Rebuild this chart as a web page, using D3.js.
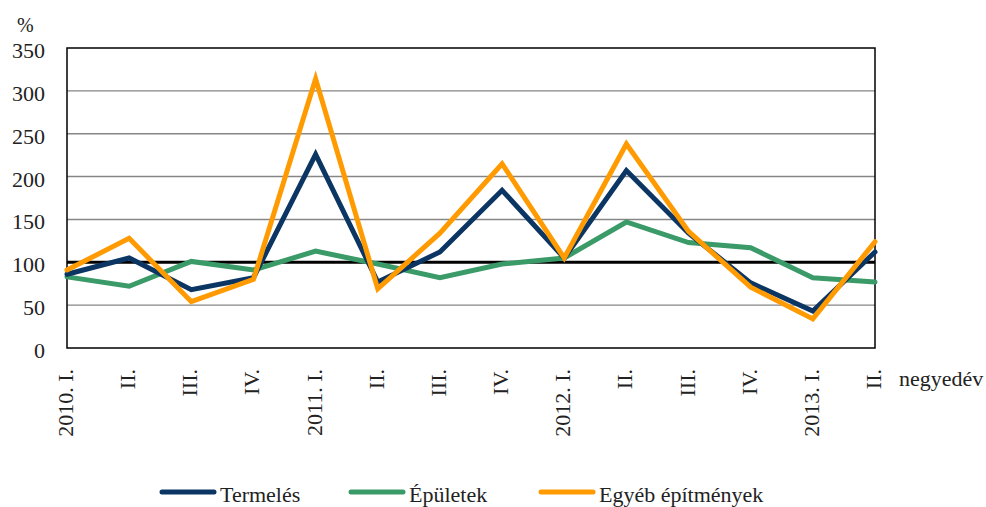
<!DOCTYPE html>
<html>
<head>
  <meta charset="utf-8">
  <title>Negyedéves indexek</title>
  <script src="https://cdn.jsdelivr.net/npm/d3@7"></script>
  <style>
    body { margin: 0; background: #fff; }
    text { font-family: "Liberation Serif", "Times New Roman", "DejaVu Serif", serif; fill: #222; }
  </style>
</head>
<body>
<script>
    // quarters on the x axis
    var quarters = ["2010. I.", "II.", "III.", "IV.", "2011. I.", "II.", "III.", "IV.",
                    "2012. I.", "II.", "III.", "IV.", "2013. I.", "II."]
    var yTicks = [0, 50, 100, 150, 200, 250, 300, 350]

    // series values (%)
    var termeles = [86, 105, 68, 82, 226, 77, 112, 184, 105, 207, 134, 76, 43, 112]
    var epuletek = [83, 72, 101, 91, 113, 98, 82, 98, 105, 147, 123, 117, 82, 77]
    var egyeb    = [91, 128, 54, 80, 314, 69, 134, 215, 105, 238, 136, 71, 34, 124]

    var series = [
        {name: "Épületek", values: epuletek, color: "#3a9a68"},
        {name: "Termelés", values: termeles, color: "#0b3563"},
        {name: "Egyéb építmények", values: egyeb, color: "#ff9b00"}
    ]
    var legendOrder = [series[1], series[0], series[2]]

    var W = 986, H = 507
    var m = {left: 67, right: 111, top: 48, bottom: 159}
    var fs = "22px"

    var svg = d3.select("body").append("svg")
        .attr("width", W).attr("height", H)

    var x = d3.scalePoint()
        .domain(d3.range(quarters.length))
        .range([m.left, W - m.right])

    var y = d3.scaleLinear()
        .domain([0, 350])
        .range([H - m.bottom, m.top])

    // gridlines
    svg.selectAll("line.grid").data(yTicks.filter(function(d) { return d > 0 && d < 350 && d != 100 }))
        .enter().append("line")
        .attr("x1", m.left).attr("x2", W - m.right)
        .attr("y1", function(d) { return y(d) }).attr("y2", function(d) { return y(d) })
        .attr("stroke", "#868686").attr("stroke-width", 1.4)

    // plot border
    svg.append("rect")
        .attr("x", m.left).attr("y", m.top)
        .attr("width", W - m.right - m.left).attr("height", y(0) - m.top)
        .attr("fill", "none").attr("stroke", "#000").attr("stroke-width", 1.5)

    // 100% reference line
    svg.append("line")
        .attr("x1", m.left).attr("x2", W - m.right)
        .attr("y1", y(100)).attr("y2", y(100))
        .attr("stroke", "#000").attr("stroke-width", 3)

    // y axis labels
    svg.selectAll("text.ytick").data(yTicks).enter().append("text")
        .attr("x", 45).attr("y", function(d) { return y(d) + 10 })
        .attr("text-anchor", "end").attr("font-size", fs)
        .text(function(d) { return d })

    svg.append("text").attr("x", 17).attr("y", 32)
        .attr("font-size", "20px").text("%")

    // x axis labels, rotated
    svg.selectAll("text.xtick").data(quarters).enter().append("text")
        .attr("transform", function(d, i) { return "translate(" + (x(i) + 6) + ",369) rotate(-90)" })
        .attr("text-anchor", "end").attr("font-size", fs)
        .text(function(d) { return d })

    svg.append("text").attr("x", 899).attr("y", 386)
        .attr("font-size", fs).text("negyedév")

    // lines
    var line = d3.line()
        .x(function(d, i) { return x(i) })
        .y(function(d) { return y(d) })

    svg.selectAll("path.series").data(series).enter().append("path")
        .attr("d", function(d) { return line(d.values) })
        .attr("fill", "none")
        .attr("stroke", function(d) { return d.color })
        .attr("stroke-width", 5)
        .attr("stroke-linejoin", "miter")
        .attr("stroke-linecap", "round")

    // legend
    var legendX = [162, 351, 541]
    var lg = svg.selectAll("g.legend").data(legendOrder).enter().append("g")
        .attr("transform", function(d, i) { return "translate(" + legendX[i] + ",492)" })
    lg.append("line")
        .attr("x1", 0).attr("x2", 52).attr("y1", 0).attr("y2", 0)
        .attr("stroke", function(d) { return d.color })
        .attr("stroke-width", 5).attr("stroke-linecap", "round")
    lg.append("text").attr("x", 58).attr("y", 10)
        .attr("font-size", fs)
        .text(function(d) { return d.name })
</script>
</body>
</html>
